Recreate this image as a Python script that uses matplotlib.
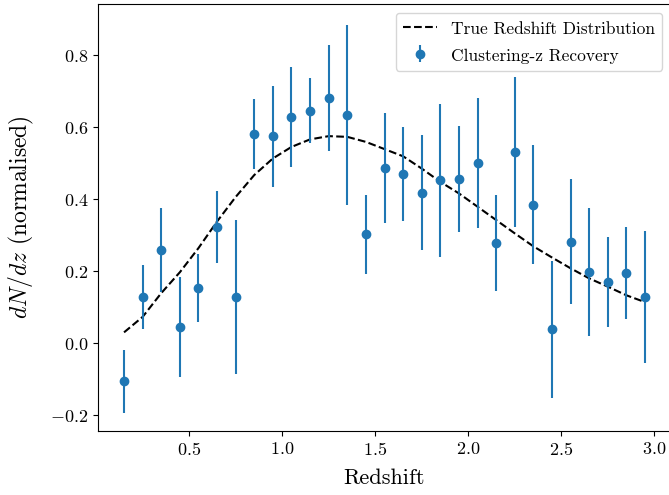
"""Clustering-z recovery vs true redshift distribution."""
import matplotlib
matplotlib.use("Agg")
import matplotlib.pyplot as plt

plt.rcParams["font.family"] = "serif"
plt.rcParams["font.serif"] = ["cmr10"]
plt.rcParams["mathtext.fontset"] = "cm"
plt.rcParams["axes.formatter.use_mathtext"] = True

# bin centres
z_bins = [0.15, 0.25, 0.35, 0.45, 0.55, 0.65, 0.75, 0.85, 0.95, 1.05,
          1.15, 1.25, 1.35, 1.45, 1.55, 1.65, 1.75, 1.85, 1.95, 2.05,
          2.15, 2.25, 2.35, 2.45, 2.55, 2.65, 2.75, 2.85, 2.95]

# recovered dN/dz and 1-sigma errors
dndz_rec = [-0.106, 0.128, 0.259, 0.045, 0.154, 0.323, 0.128, 0.581, 0.574, 0.628,
            0.646, 0.682, 0.633, 0.302, 0.487, 0.469, 0.418, 0.452, 0.456, 0.501,
            0.279, 0.531, 0.385, 0.038, 0.282, 0.198, 0.171, 0.195, 0.128]
dndz_err = [0.088, 0.089, 0.117, 0.140, 0.094, 0.100, 0.213, 0.097, 0.139, 0.139,
            0.090, 0.147, 0.250, 0.110, 0.152, 0.131, 0.160, 0.212, 0.148, 0.180,
            0.133, 0.207, 0.164, 0.190, 0.173, 0.177, 0.125, 0.129, 0.184]

# true distribution read at the same bin centres
dndz_true = [0.030, 0.073, 0.139, 0.197, 0.264, 0.338, 0.406, 0.467, 0.513, 0.545,
             0.566, 0.575, 0.573, 0.559, 0.539, 0.519, 0.485, 0.448, 0.416, 0.379,
             0.342, 0.305, 0.269, 0.238, 0.208, 0.180, 0.157, 0.133, 0.114]

W, H = 669, 495
fig = plt.figure(figsize=(W / 100, H / 100), dpi=100)
ax = fig.add_axes([98 / W, 1 - 431 / H, 573 / W, 427 / H])

ax.plot(z_bins, dndz_true, "k--", lw=1.5, label="True Redshift Distribution")
ax.errorbar(z_bins, dndz_rec, yerr=dndz_err, fmt="o", color="#1f77b4",
            ms=6, elinewidth=1.5, capsize=0, label="Clustering-z Recovery")

ax.set_xlim(0.01, 3.09)
ax.set_ylim(-0.244, 0.942)
ax.set_xticks([0.5, 1.0, 1.5, 2.0, 2.5, 3.0])
ax.set_yticks([-0.2, 0.0, 0.2, 0.4, 0.6, 0.8])
ax.tick_params(labelsize=13)
ax.set_xlabel("Redshift", fontsize=16, labelpad=8)
ax.set_ylabel(r"$dN/dz$ (normalised)", fontsize=17, labelpad=10)
ax.legend(loc="upper right", fontsize=12.5, handleheight=1.1, labelspacing=0.55,
          borderaxespad=0.5)

fig.savefig("out.png", dpi=100)
